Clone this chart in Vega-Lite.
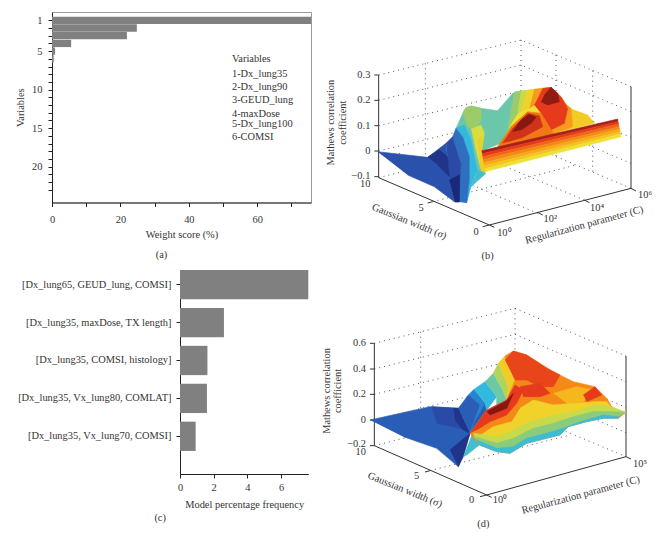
{"$schema":"https://vega.github.io/schema/vega-lite/v6.json","background":"white","padding":{"left":-14,"top":9,"right":0,"bottom":0},"config":{"view":{"stroke":null},"font":"Liberation Serif","axis":{"labelFont":"Liberation Serif","titleFont":"Liberation Serif","labelFontSize":10.4,"titleFontSize":10.4,"titleFontWeight":"normal","labelColor":"#333","titleColor":"#333","domainColor":"#222","tickColor":"#222","grid":false,"tickSize":4,"labelOverlap":false},"title":{"font":"Liberation Serif","fontSize":10.4,"fontWeight":"normal","color":"#333"},"text":{"font":"Liberation Serif","fontSize":10.4,"color":"#333"}},"datasets":{"spacer":[{"s":0}],"dotB":[{"g":1,"x":173,"y":135},{"g":1,"x":600,"y":30},{"g":1,"x":930,"y":170},{"g":2,"x":173,"y":211},{"g":2,"x":600,"y":105},{"g":2,"x":930,"y":245},{"g":3,"x":173,"y":287},{"g":3,"x":600,"y":183},{"g":3,"x":930,"y":322},{"g":4,"x":173,"y":363},{"g":4,"x":600,"y":260},{"g":4,"x":930,"y":400},{"g":5,"x":173,"y":443},{"g":5,"x":600,"y":335},{"g":5,"x":930,"y":475},{"g":6,"x":600,"y":30},{"g":6,"x":600,"y":335},{"g":7,"x":313,"y":100},{"g":7,"x":313,"y":405},{"g":8,"x":335,"y":515},{"g":8,"x":765,"y":405},{"g":9,"x":705,"y":75},{"g":9,"x":705,"y":380},{"g":10,"x":815,"y":122},{"g":10,"x":815,"y":428},{"g":11,"x":650,"y":550},{"g":11,"x":230,"y":368},{"g":12,"x":790,"y":510},{"g":12,"x":460,"y":370}],"axB":[{"g":1,"x":173,"y":135},{"g":1,"x":173,"y":443},{"g":2,"x":173,"y":443},{"g":2,"x":505,"y":585},{"g":3,"x":505,"y":585},{"g":3,"x":930,"y":475},{"g":4,"x":930,"y":170},{"g":4,"x":930,"y":475},{"g":5,"x":160,"y":135},{"g":5,"x":173,"y":135},{"g":6,"x":160,"y":211},{"g":6,"x":173,"y":211},{"g":7,"x":160,"y":287},{"g":7,"x":173,"y":287},{"g":8,"x":160,"y":363},{"g":8,"x":173,"y":363},{"g":9,"x":160,"y":440},{"g":9,"x":173,"y":440},{"g":10,"x":335,"y":515},{"g":10,"x":320,"y":519},{"g":11,"x":505,"y":585},{"g":11,"x":485,"y":590},{"g":12,"x":505,"y":585},{"g":12,"x":520,"y":592},{"g":13,"x":650,"y":547},{"g":13,"x":665,"y":555},{"g":14,"x":790,"y":510},{"g":14,"x":805,"y":518},{"g":15,"x":930,"y":475},{"g":15,"x":945,"y":483}],"surfB":[{"p":0,"z":6,"x":540,"y":340},{"p":0,"z":6,"x":575,"y":270},{"p":0,"z":6,"x":590,"y":185},{"p":0,"z":6,"x":640,"y":178},{"p":0,"z":6,"x":690,"y":172},{"p":0,"z":6,"x":700,"y":310},{"p":0,"z":6,"x":560,"y":350},{"p":1,"z":4.2,"x":405,"y":295},{"p":1,"z":4.2,"x":430,"y":240},{"p":1,"z":4.2,"x":450,"y":228},{"p":1,"z":4.2,"x":480,"y":235},{"p":1,"z":4.2,"x":530,"y":242},{"p":1,"z":4.2,"x":575,"y":190},{"p":1,"z":4.2,"x":590,"y":185},{"p":1,"z":4.2,"x":575,"y":270},{"p":1,"z":4.2,"x":540,"y":340},{"p":1,"z":4.2,"x":482,"y":362},{"p":1,"z":4.2,"x":470,"y":350},{"p":1,"z":4.2,"x":440,"y":300},{"p":2,"z":5,"x":425,"y":250},{"p":2,"z":5,"x":435,"y":232},{"p":2,"z":5,"x":450,"y":228},{"p":2,"z":5,"x":480,"y":235},{"p":2,"z":5,"x":480,"y":270},{"p":2,"z":5,"x":460,"y":300},{"p":2,"z":5,"x":440,"y":290},{"p":3,"z":5,"x":580,"y":186},{"p":3,"z":5,"x":600,"y":183},{"p":3,"z":5,"x":590,"y":250},{"p":3,"z":5,"x":560,"y":295},{"p":4,"z":5.6,"x":600,"y":183},{"p":4,"z":5.6,"x":618,"y":181},{"p":4,"z":5.6,"x":600,"y":245},{"p":4,"z":5.6,"x":590,"y":250},{"p":5,"z":6.2,"x":618,"y":181},{"p":5,"z":6.2,"x":640,"y":178},{"p":5,"z":6.2,"x":625,"y":235},{"p":5,"z":6.2,"x":600,"y":245},{"p":6,"z":7,"x":640,"y":178},{"p":6,"z":7,"x":665,"y":175},{"p":6,"z":7,"x":640,"y":225},{"p":6,"z":7,"x":625,"y":235},{"p":7,"z":8,"x":665,"y":175},{"p":7,"z":8,"x":690,"y":172},{"p":7,"z":8,"x":640,"y":225},{"p":8,"z":6.3,"x":720,"y":200},{"p":8,"z":6.3,"x":745,"y":235},{"p":8,"z":6.3,"x":800,"y":255},{"p":8,"z":6.3,"x":820,"y":280},{"p":8,"z":6.3,"x":700,"y":310},{"p":8,"z":6.3,"x":690,"y":300},{"p":9,"z":7,"x":725,"y":215},{"p":9,"z":7,"x":750,"y":235},{"p":9,"z":7,"x":755,"y":290},{"p":9,"z":7,"x":700,"y":310},{"p":9,"z":7,"x":690,"y":300},{"p":9,"z":7,"x":730,"y":280},{"p":10,"z":8,"x":640,"y":225},{"p":10,"z":8,"x":690,"y":172},{"p":10,"z":8,"x":720,"y":200},{"p":10,"z":8,"x":740,"y":235},{"p":10,"z":8,"x":730,"y":280},{"p":10,"z":8,"x":690,"y":300},{"p":10,"z":8,"x":660,"y":250},{"p":11,"z":8.8,"x":670,"y":195},{"p":11,"z":8.8,"x":690,"y":172},{"p":11,"z":8.8,"x":710,"y":190},{"p":11,"z":8.8,"x":715,"y":215},{"p":11,"z":8.8,"x":680,"y":225},{"p":11,"z":8.8,"x":660,"y":215},{"p":12,"z":7.4,"x":530,"y":350},{"p":12,"z":7.4,"x":570,"y":290},{"p":12,"z":7.4,"x":620,"y":245},{"p":12,"z":7.4,"x":660,"y":250},{"p":12,"z":7.4,"x":700,"y":315},{"p":12,"z":7.4,"x":560,"y":350},{"p":13,"z":8.2,"x":545,"y":340},{"p":13,"z":8.2,"x":575,"y":295},{"p":13,"z":8.2,"x":620,"y":250},{"p":13,"z":8.2,"x":655,"y":258},{"p":13,"z":8.2,"x":665,"y":290},{"p":13,"z":8.2,"x":600,"y":325},{"p":14,"z":8.9,"x":575,"y":305},{"p":14,"z":8.9,"x":600,"y":270},{"p":14,"z":8.9,"x":625,"y":253},{"p":14,"z":8.9,"x":645,"y":262},{"p":14,"z":8.9,"x":630,"y":280},{"p":14,"z":8.9,"x":600,"y":300},{"p":15,"z":5.8,"x":445,"y":300},{"p":15,"z":5.8,"x":480,"y":285},{"p":15,"z":5.8,"x":490,"y":310},{"p":15,"z":5.8,"x":482,"y":362},{"p":15,"z":5.8,"x":495,"y":425},{"p":15,"z":5.8,"x":470,"y":430},{"p":15,"z":5.8,"x":465,"y":380},{"p":16,"z":6.3,"x":470,"y":330},{"p":16,"z":6.3,"x":482,"y":320},{"p":16,"z":6.3,"x":482,"y":362},{"p":16,"z":6.3,"x":495,"y":425},{"p":16,"z":6.3,"x":480,"y":425},{"p":17,"z":4,"x":435,"y":290},{"p":17,"z":4,"x":450,"y":300},{"p":17,"z":4,"x":465,"y":370},{"p":17,"z":4,"x":480,"y":425},{"p":17,"z":4,"x":468,"y":440},{"p":17,"z":4,"x":450,"y":360},{"p":18,"z":3.2,"x":405,"y":295},{"p":18,"z":3.2,"x":430,"y":285},{"p":18,"z":3.2,"x":450,"y":330},{"p":18,"z":3.2,"x":468,"y":420},{"p":18,"z":3.2,"x":450,"y":470},{"p":18,"z":3.2,"x":437,"y":518},{"p":18,"z":3.2,"x":445,"y":450},{"p":18,"z":3.2,"x":445,"y":380},{"p":18,"z":3.2,"x":425,"y":320},{"p":19,"z":3.5,"x":450,"y":470},{"p":19,"z":3.5,"x":495,"y":430},{"p":19,"z":3.5,"x":468,"y":420},{"p":20,"z":2,"x":395,"y":320},{"p":20,"z":2,"x":405,"y":295},{"p":20,"z":2,"x":425,"y":320},{"p":20,"z":2,"x":445,"y":380},{"p":20,"z":2,"x":445,"y":450},{"p":20,"z":2,"x":437,"y":518},{"p":20,"z":2,"x":415,"y":515},{"p":20,"z":2,"x":420,"y":400},{"p":21,"z":1,"x":375,"y":340},{"p":21,"z":1,"x":395,"y":320},{"p":21,"z":1,"x":420,"y":400},{"p":21,"z":1,"x":415,"y":515},{"p":21,"z":1,"x":400,"y":515},{"p":21,"z":1,"x":385,"y":440},{"p":22,"z":1.2,"x":170,"y":365},{"p":22,"z":1.2,"x":320,"y":382},{"p":22,"z":1.2,"x":375,"y":340},{"p":22,"z":1.2,"x":385,"y":440},{"p":22,"z":1.2,"x":400,"y":515},{"p":22,"z":1.2,"x":340,"y":470},{"p":22,"z":1.2,"x":260,"y":435},{"p":23,"z":0.5,"x":320,"y":382},{"p":23,"z":0.5,"x":355,"y":360},{"p":23,"z":0.5,"x":380,"y":380},{"p":23,"z":0.5,"x":385,"y":440},{"p":23,"z":0.5,"x":345,"y":400},{"p":24,"z":0.2,"x":385,"y":450},{"p":24,"z":0.2,"x":415,"y":435},{"p":24,"z":0.2,"x":415,"y":516},{"p":24,"z":0.2,"x":402,"y":516},{"p":30,"z":8.6,"x":482,"y":362},{"p":30,"z":8.6,"x":890,"y":267},{"p":30,"z":8.6,"x":891,"y":275},{"p":30,"z":8.6,"x":483,"y":371},{"p":31,"z":8,"x":483,"y":371},{"p":31,"z":8,"x":891,"y":275},{"p":31,"z":8,"x":893,"y":282},{"p":31,"z":8,"x":485,"y":380},{"p":32,"z":7.6,"x":485,"y":380},{"p":32,"z":7.6,"x":893,"y":282},{"p":32,"z":7.6,"x":894,"y":290},{"p":32,"z":7.6,"x":486,"y":389},{"p":33,"z":7.2,"x":486,"y":389},{"p":33,"z":7.2,"x":894,"y":290},{"p":33,"z":7.2,"x":896,"y":297},{"p":33,"z":7.2,"x":488,"y":398},{"p":34,"z":6.8,"x":488,"y":398},{"p":34,"z":6.8,"x":896,"y":297},{"p":34,"z":6.8,"x":897,"y":305},{"p":34,"z":6.8,"x":489,"y":407},{"p":35,"z":6.4,"x":489,"y":407},{"p":35,"z":6.4,"x":897,"y":305},{"p":35,"z":6.4,"x":899,"y":312},{"p":35,"z":6.4,"x":491,"y":416},{"p":36,"z":6,"x":491,"y":416},{"p":36,"z":6,"x":899,"y":312},{"p":36,"z":6,"x":900,"y":320},{"p":36,"z":6,"x":492,"y":425}],"dotD":[{"g":1,"x":163,"y":190},{"g":1,"x":585,"y":85},{"g":1,"x":918,"y":228},{"g":2,"x":163,"y":267},{"g":2,"x":585,"y":163},{"g":2,"x":918,"y":305},{"g":3,"x":163,"y":343},{"g":3,"x":585,"y":240},{"g":3,"x":918,"y":382},{"g":4,"x":163,"y":420},{"g":4,"x":585,"y":315},{"g":4,"x":918,"y":458},{"g":5,"x":163,"y":497},{"g":5,"x":585,"y":390},{"g":5,"x":918,"y":530},{"g":6,"x":585,"y":85},{"g":6,"x":585,"y":390},{"g":7,"x":302,"y":155},{"g":7,"x":302,"y":460},{"g":8,"x":330,"y":572},{"g":8,"x":750,"y":465}],"axD":[{"g":1,"x":163,"y":190},{"g":1,"x":163,"y":497},{"g":2,"x":163,"y":497},{"g":2,"x":500,"y":645},{"g":3,"x":500,"y":645},{"g":3,"x":918,"y":530},{"g":4,"x":918,"y":228},{"g":4,"x":918,"y":530},{"g":5,"x":150,"y":190},{"g":5,"x":163,"y":190},{"g":6,"x":150,"y":267},{"g":6,"x":163,"y":267},{"g":7,"x":150,"y":343},{"g":7,"x":163,"y":343},{"g":8,"x":150,"y":420},{"g":8,"x":163,"y":420},{"g":9,"x":150,"y":497},{"g":9,"x":163,"y":497},{"g":10,"x":330,"y":572},{"g":10,"x":315,"y":576},{"g":11,"x":500,"y":645},{"g":11,"x":480,"y":650},{"g":12,"x":500,"y":645},{"g":12,"x":515,"y":652},{"g":13,"x":918,"y":530},{"g":13,"x":933,"y":537}],"surfD":[{"p":1,"z":1.5,"x":150,"y":420},{"p":1,"z":1.5,"x":330,"y":380},{"p":1,"z":1.5,"x":415,"y":385},{"p":1,"z":1.5,"x":450,"y":460},{"p":1,"z":1.5,"x":415,"y":560},{"p":1,"z":1.5,"x":350,"y":505},{"p":1,"z":1.5,"x":250,"y":470},{"p":2,"z":1,"x":335,"y":380},{"p":2,"z":1,"x":415,"y":385},{"p":2,"z":1,"x":440,"y":450},{"p":2,"z":1,"x":400,"y":440},{"p":2,"z":1,"x":350,"y":430},{"p":3,"z":0.5,"x":400,"y":385},{"p":3,"z":0.5,"x":415,"y":385},{"p":3,"z":0.5,"x":450,"y":460},{"p":3,"z":0.5,"x":430,"y":450},{"p":3,"z":0.5,"x":405,"y":420},{"p":4,"z":0.5,"x":390,"y":510},{"p":4,"z":0.5,"x":450,"y":460},{"p":4,"z":0.5,"x":430,"y":530},{"p":4,"z":0.5,"x":415,"y":560},{"p":5,"z":1.5,"x":415,"y":385},{"p":5,"z":1.5,"x":445,"y":345},{"p":5,"z":1.5,"x":495,"y":370},{"p":5,"z":1.5,"x":500,"y":390},{"p":5,"z":1.5,"x":450,"y":460},{"p":6,"z":2.3,"x":445,"y":345},{"p":6,"z":2.3,"x":462,"y":328},{"p":6,"z":2.3,"x":495,"y":370},{"p":6,"z":2.3,"x":460,"y":430},{"p":6,"z":2.3,"x":450,"y":460},{"p":6,"z":2.3,"x":480,"y":375},{"p":7,"z":3.2,"x":462,"y":328},{"p":7,"z":3.2,"x":495,"y":305},{"p":7,"z":3.2,"x":530,"y":350},{"p":7,"z":3.2,"x":500,"y":390},{"p":7,"z":3.2,"x":495,"y":370},{"p":8,"z":4.3,"x":495,"y":305},{"p":8,"z":4.3,"x":520,"y":280},{"p":8,"z":4.3,"x":550,"y":335},{"p":8,"z":4.3,"x":560,"y":360},{"p":8,"z":4.3,"x":530,"y":375},{"p":8,"z":4.3,"x":530,"y":350},{"p":9,"z":5.3,"x":520,"y":280},{"p":9,"z":5.3,"x":535,"y":250},{"p":9,"z":5.3,"x":565,"y":320},{"p":9,"z":5.3,"x":560,"y":360},{"p":9,"z":5.3,"x":550,"y":335},{"p":10,"z":6.3,"x":535,"y":250},{"p":10,"z":6.3,"x":555,"y":228},{"p":10,"z":6.3,"x":585,"y":300},{"p":10,"z":6.3,"x":560,"y":360},{"p":10,"z":6.3,"x":565,"y":320},{"p":11,"z":3.5,"x":455,"y":465},{"p":11,"z":3.5,"x":478,"y":495},{"p":11,"z":3.5,"x":440,"y":525},{"p":11,"z":3.5,"x":430,"y":530},{"p":12,"z":7.2,"x":560,"y":360},{"p":12,"z":7.2,"x":585,"y":300},{"p":12,"z":7.2,"x":555,"y":228},{"p":12,"z":7.2,"x":580,"y":213},{"p":12,"z":7.2,"x":620,"y":225},{"p":12,"z":7.2,"x":700,"y":275},{"p":12,"z":7.2,"x":760,"y":305},{"p":12,"z":7.2,"x":825,"y":320},{"p":12,"z":7.2,"x":860,"y":355},{"p":12,"z":7.2,"x":885,"y":395},{"p":12,"z":7.2,"x":918,"y":397},{"p":12,"z":7.2,"x":895,"y":415},{"p":12,"z":7.2,"x":850,"y":415},{"p":12,"z":7.2,"x":800,"y":425},{"p":12,"z":7.2,"x":745,"y":440},{"p":12,"z":7.2,"x":720,"y":465},{"p":12,"z":7.2,"x":680,"y":475},{"p":12,"z":7.2,"x":620,"y":490},{"p":12,"z":7.2,"x":570,"y":520},{"p":12,"z":7.2,"x":530,"y":515},{"p":12,"z":7.2,"x":478,"y":495},{"p":12,"z":7.2,"x":450,"y":460},{"p":12,"z":7.2,"x":500,"y":390},{"p":13,"z":7.9,"x":555,"y":240},{"p":13,"z":7.9,"x":580,"y":213},{"p":13,"z":7.9,"x":620,"y":225},{"p":13,"z":7.9,"x":680,"y":265},{"p":13,"z":7.9,"x":720,"y":285},{"p":13,"z":7.9,"x":700,"y":320},{"p":13,"z":7.9,"x":660,"y":320},{"p":13,"z":7.9,"x":620,"y":300},{"p":13,"z":7.9,"x":585,"y":300},{"p":14,"z":8,"x":600,"y":320},{"p":14,"z":8,"x":660,"y":310},{"p":14,"z":8,"x":690,"y":340},{"p":14,"z":8,"x":660,"y":350},{"p":14,"z":8,"x":610,"y":350},{"p":15,"z":6.6,"x":700,"y":340},{"p":15,"z":6.6,"x":770,"y":320},{"p":15,"z":6.6,"x":825,"y":330},{"p":15,"z":6.6,"x":790,"y":365},{"p":15,"z":6.6,"x":740,"y":370},{"p":16,"z":8,"x":790,"y":345},{"p":16,"z":8,"x":825,"y":320},{"p":16,"z":8,"x":845,"y":345},{"p":16,"z":8,"x":800,"y":365},{"p":17,"z":6.2,"x":600,"y":385},{"p":17,"z":6.2,"x":640,"y":360},{"p":17,"z":6.2,"x":700,"y":375},{"p":17,"z":6.2,"x":760,"y":370},{"p":17,"z":6.2,"x":830,"y":365},{"p":17,"z":6.2,"x":860,"y":365},{"p":17,"z":6.2,"x":885,"y":395},{"p":17,"z":6.2,"x":820,"y":395},{"p":17,"z":6.2,"x":760,"y":410},{"p":17,"z":6.2,"x":700,"y":430},{"p":17,"z":6.2,"x":640,"y":445},{"p":17,"z":6.2,"x":580,"y":475},{"p":17,"z":6.2,"x":530,"y":470},{"p":17,"z":6.2,"x":475,"y":470},{"p":17,"z":6.2,"x":520,"y":440},{"p":17,"z":6.2,"x":575,"y":425},{"p":18,"z":5.6,"x":460,"y":460},{"p":18,"z":5.6,"x":530,"y":470},{"p":18,"z":5.6,"x":570,"y":455},{"p":18,"z":5.6,"x":630,"y":425},{"p":18,"z":5.6,"x":700,"y":405},{"p":18,"z":5.6,"x":760,"y":395},{"p":18,"z":5.6,"x":830,"y":375},{"p":18,"z":5.6,"x":875,"y":380},{"p":18,"z":5.6,"x":918,"y":397},{"p":18,"z":5.6,"x":885,"y":405},{"p":18,"z":5.6,"x":820,"y":400},{"p":18,"z":5.6,"x":760,"y":415},{"p":18,"z":5.6,"x":700,"y":435},{"p":18,"z":5.6,"x":640,"y":450},{"p":18,"z":5.6,"x":580,"y":480},{"p":18,"z":5.6,"x":530,"y":495},{"p":18,"z":5.6,"x":465,"y":475},{"p":19,"z":4.8,"x":465,"y":470},{"p":19,"z":4.8,"x":530,"y":490},{"p":19,"z":4.8,"x":580,"y":475},{"p":19,"z":4.8,"x":640,"y":445},{"p":19,"z":4.8,"x":700,"y":430},{"p":19,"z":4.8,"x":760,"y":410},{"p":19,"z":4.8,"x":820,"y":395},{"p":19,"z":4.8,"x":885,"y":395},{"p":19,"z":4.8,"x":918,"y":397},{"p":19,"z":4.8,"x":895,"y":410},{"p":19,"z":4.8,"x":850,"y":405},{"p":19,"z":4.8,"x":780,"y":425},{"p":19,"z":4.8,"x":730,"y":445},{"p":19,"z":4.8,"x":680,"y":460},{"p":19,"z":4.8,"x":620,"y":475},{"p":19,"z":4.8,"x":580,"y":500},{"p":19,"z":4.8,"x":530,"y":505},{"p":19,"z":4.8,"x":470,"y":480},{"p":20,"z":3.4,"x":470,"y":480},{"p":20,"z":3.4,"x":530,"y":505},{"p":20,"z":3.4,"x":580,"y":500},{"p":20,"z":3.4,"x":620,"y":475},{"p":20,"z":3.4,"x":680,"y":460},{"p":20,"z":3.4,"x":730,"y":445},{"p":20,"z":3.4,"x":780,"y":425},{"p":20,"z":3.4,"x":850,"y":405},{"p":20,"z":3.4,"x":895,"y":410},{"p":20,"z":3.4,"x":895,"y":415},{"p":20,"z":3.4,"x":850,"y":415},{"p":20,"z":3.4,"x":800,"y":425},{"p":20,"z":3.4,"x":745,"y":440},{"p":20,"z":3.4,"x":720,"y":465},{"p":20,"z":3.4,"x":680,"y":475},{"p":20,"z":3.4,"x":620,"y":490},{"p":20,"z":3.4,"x":570,"y":520},{"p":20,"z":3.4,"x":530,"y":515},{"p":20,"z":3.4,"x":478,"y":495},{"p":21,"z":8,"x":450,"y":460},{"p":21,"z":8,"x":500,"y":390},{"p":21,"z":8,"x":560,"y":360},{"p":21,"z":8,"x":585,"y":315},{"p":21,"z":8,"x":610,"y":330},{"p":21,"z":8,"x":590,"y":370},{"p":21,"z":8,"x":560,"y":405},{"p":21,"z":8,"x":510,"y":425},{"p":21,"z":8,"x":470,"y":450},{"p":22,"z":8.9,"x":500,"y":395},{"p":22,"z":8.9,"x":560,"y":362},{"p":22,"z":8.9,"x":580,"y":340},{"p":22,"z":8.9,"x":560,"y":385},{"p":22,"z":8.9,"x":510,"y":405}]},"vconcat":[{"hconcat":[{"width":0,"height":1,"data":{"name":"spacer"},"mark":{"type":"point","opacity":0},"encoding":{}},{"width":259,"height":190.5,"title":{"text":"(a)","orient":"bottom","dx":-20,"offset":10},"view":{"stroke":"#999"},"layer":[{"data":{"values":[{"v":1,"w":75.7},{"v":2,"w":24.8},{"v":3,"w":21.9},{"v":4,"w":5.6},{"v":5,"w":0.9},{"v":6,"w":0.5}]},"mark":{"type":"bar","size":7.3,"color":"#808080","orient":"horizontal"},"encoding":{"x":{"field":"w","type":"quantitative","title":"Weight score (%)","scale":{"domain":[0,75.7],"nice":false},"axis":{"values":[0,10,20,30,40,50,60,70],"tickCount":40,"labelExpr":"datum.value%20==0?datum.value:''","labelFlush":false,"labelPadding":8,"titlePadding":5}},"y":{"field":"v","type":"quantitative","title":"Variables","scale":{"domain":[0.57,24],"nice":false,"reverse":true,"zero":false},"axis":{"values":[1,2,3,4,5,6,7,8,9,10,11,12,13,14,15,16,17,18,19,20,21,22,23],"tickCount":40,"labelExpr":"indexof([1,5,10,15,20],datum.value)>=0?datum.value:''","labelPadding":6,"titlePadding":6}}}},{"data":{"values":[{"t":"Variables","a":52.6,"b":6.07},{"t":"1-Dx_lung35","a":52.6,"b":7.99},{"t":"2-Dx_lung90","a":52.6,"b":9.67},{"t":"3-GEUD_lung","a":52.6,"b":11.39},{"t":"4-maxDose","a":52.6,"b":13.1},{"t":"5-Dx_lung100","a":52.6,"b":14.5},{"t":"6-COMSI","a":52.6,"b":16.2}]},"mark":{"type":"text","align":"left","baseline":"middle"},"encoding":{"x":{"field":"a","type":"quantitative"},"y":{"field":"b","type":"quantitative"},"text":{"field":"t"}}}]},{"width":346,"height":255,"layer":[{"data":{"name":"dotB"},"mark":{"type":"line","strokeDash":[1,4],"strokeWidth":1,"color":"#555"},"encoding":{"detail":{"field":"g"},"order":{"value":null}}},{"data":{"name":"axB"},"mark":{"type":"line","strokeWidth":1,"color":"#333"},"encoding":{"detail":{"field":"g"},"order":{"value":null}}},{"data":{"name":"surfB"},"mark":{"type":"line","strokeWidth":0.6,"clip":false},"encoding":{"detail":{"field":"p"},"order":{"value":null},"fill":{"field":"z","type":"quantitative","legend":null,"scale":{"domain":[0,1,2,3,4,5,6,7,8,9],"range":["#14206b","#2a4aa8","#2f6fc0","#35b5e8","#6cc4b4","#9ccc6a","#eee034","#f79a1e","#e63a1c","#7d1410"]}},"stroke":{"field":"z","type":"quantitative","legend":null,"scale":{"domain":[0,1,2,3,4,5,6,7,8,9],"range":["#14206b","#2a4aa8","#2f6fc0","#35b5e8","#6cc4b4","#9ccc6a","#eee034","#f79a1e","#e63a1c","#7d1410"]}}}},{"data":{"values":[{"t":"0.3","x":148,"y":135},{"t":"0.2","x":148,"y":211},{"t":"0.1","x":148,"y":287},{"t":"0","x":148,"y":363},{"t":"−0.1","x":148,"y":438},{"t":"10","x":148,"y":462}]},"mark":{"type":"text","align":"right","baseline":"middle"},"encoding":{"text":{"field":"t"}}},{"data":{"values":[{"t":"5","x":300,"y":533},{"t":"0","x":465,"y":605},{"t":"10⁰","x":550,"y":608},{"t":"10²","x":688,"y":568},{"t":"10⁴","x":828,"y":535},{"t":"10⁶","x":972,"y":495}]},"mark":{"type":"text","align":"center","baseline":"middle"},"encoding":{"text":{"field":"t"}}},{"data":{"values":[{"t":"Mathews correlation","x":30,"y":278},{"t":"coefficient","x":65,"y":278}]},"mark":{"type":"text","align":"center","baseline":"middle","angle":270},"encoding":{"text":{"field":"t"}}},{"data":{"values":[{"t":"Gaussian width (σ)","x":265,"y":575}]},"mark":{"type":"text","align":"center","baseline":"middle","angle":22},"encoding":{"text":{"field":"t"}}},{"data":{"values":[{"t":"Regularization parameter (C)","x":790,"y":585}]},"mark":{"type":"text","align":"center","baseline":"middle","angle":345},"encoding":{"text":{"field":"t"}}},{"data":{"values":[{"t":"(b)","x":500,"y":678}]},"mark":{"type":"text","align":"center","baseline":"middle"},"encoding":{"text":{"field":"t"}}}],"encoding":{"x":{"field":"x","type":"quantitative","axis":null,"scale":{"domain":[0,1038],"nice":false,"zero":false}},"y":{"field":"y","type":"quantitative","axis":null,"scale":{"domain":[711,-54],"nice":false,"zero":false}}}}],"spacing":9},{"hconcat":[{"width":0,"height":1,"data":{"name":"spacer"},"mark":{"type":"point","opacity":0},"encoding":{}},{"width":128.3,"height":204,"title":{"text":"(c)","orient":"bottom","dx":-84,"offset":3},"data":{"values":[{"m":"[Dx_lung65, GEUD_lung, COMSI]","f":7.62},{"m":"[Dx_lung35, maxDose, TX length]","f":2.61},{"m":"[Dx_lung35, COMSI, histology]","f":1.63},{"m":"[Dx_lung35, Vx_lung80, COMLAT]","f":1.6},{"m":"[Dx_lung35, Vx_lung70, COMSI]","f":0.93}]},"mark":{"type":"bar","color":"#808080"},"encoding":{"x":{"field":"f","type":"quantitative","title":"Model percentage frequency","scale":{"domain":[0,7.62],"nice":false},"axis":{"values":[0,2,4,6],"labelFlush":false,"labelPadding":4,"titlePadding":7}},"y":{"field":"m","type":"nominal","title":null,"sort":null,"scale":{"paddingInner":0.227,"paddingOuter":0.304,"align":0},"axis":{"labelPadding":5}}}},{"width":346,"height":260,"layer":[{"data":{"name":"dotD"},"mark":{"type":"line","strokeDash":[1,4],"strokeWidth":1,"color":"#555"},"encoding":{"detail":{"field":"g"},"order":{"value":null}}},{"data":{"name":"axD"},"mark":{"type":"line","strokeWidth":1,"color":"#333"},"encoding":{"detail":{"field":"g"},"order":{"value":null}}},{"data":{"name":"surfD"},"mark":{"type":"line","strokeWidth":0.6,"clip":false},"encoding":{"detail":{"field":"p"},"order":{"value":null},"fill":{"field":"z","type":"quantitative","legend":null,"scale":{"domain":[0,1,2,3,4,5,6,7,8,9],"range":["#14206b","#2a4aa8","#2f6fc0","#35b5e8","#6cc4b4","#9ccc6a","#eee034","#f79a1e","#e63a1c","#7d1410"]}},"stroke":{"field":"z","type":"quantitative","legend":null,"scale":{"domain":[0,1,2,3,4,5,6,7,8,9],"range":["#14206b","#2a4aa8","#2f6fc0","#35b5e8","#6cc4b4","#9ccc6a","#eee034","#f79a1e","#e63a1c","#7d1410"]}}}},{"data":{"values":[{"t":"0.6","x":138,"y":190},{"t":"0.4","x":138,"y":267},{"t":"0.2","x":138,"y":343},{"t":"0","x":138,"y":420},{"t":"−0.2","x":138,"y":492},{"t":"10","x":138,"y":517}]},"mark":{"type":"text","align":"right","baseline":"middle"},"encoding":{"text":{"field":"t"}}},{"data":{"values":[{"t":"5","x":290,"y":588},{"t":"0","x":455,"y":660},{"t":"10⁰","x":540,"y":660},{"t":"10⁵","x":960,"y":552}]},"mark":{"type":"text","align":"center","baseline":"middle"},"encoding":{"text":{"field":"t"}}},{"data":{"values":[{"t":"Mathews correlation","x":20,"y":333},{"t":"coefficient","x":55,"y":333}]},"mark":{"type":"text","align":"center","baseline":"middle","angle":270},"encoding":{"text":{"field":"t"}}},{"data":{"values":[{"t":"Gaussian width (σ)","x":255,"y":630}]},"mark":{"type":"text","align":"center","baseline":"middle","angle":22},"encoding":{"text":{"field":"t"}}},{"data":{"values":[{"t":"Regularization parameter (C)","x":782,"y":645}]},"mark":{"type":"text","align":"center","baseline":"middle","angle":345},"encoding":{"text":{"field":"t"}}},{"data":{"values":[{"t":"(d)","x":490,"y":732}]},"mark":{"type":"text","align":"center","baseline":"middle"},"encoding":{"text":{"field":"t"}}}],"encoding":{"x":{"field":"x","type":"quantitative","axis":null,"scale":{"domain":[0,1038],"nice":false,"zero":false}},"y":{"field":"y","type":"quantitative","axis":null,"scale":{"domain":[750,-30],"nice":false,"zero":false}}}}],"spacing":11}],"spacing":0,"align":"none","bounds":"full"}
